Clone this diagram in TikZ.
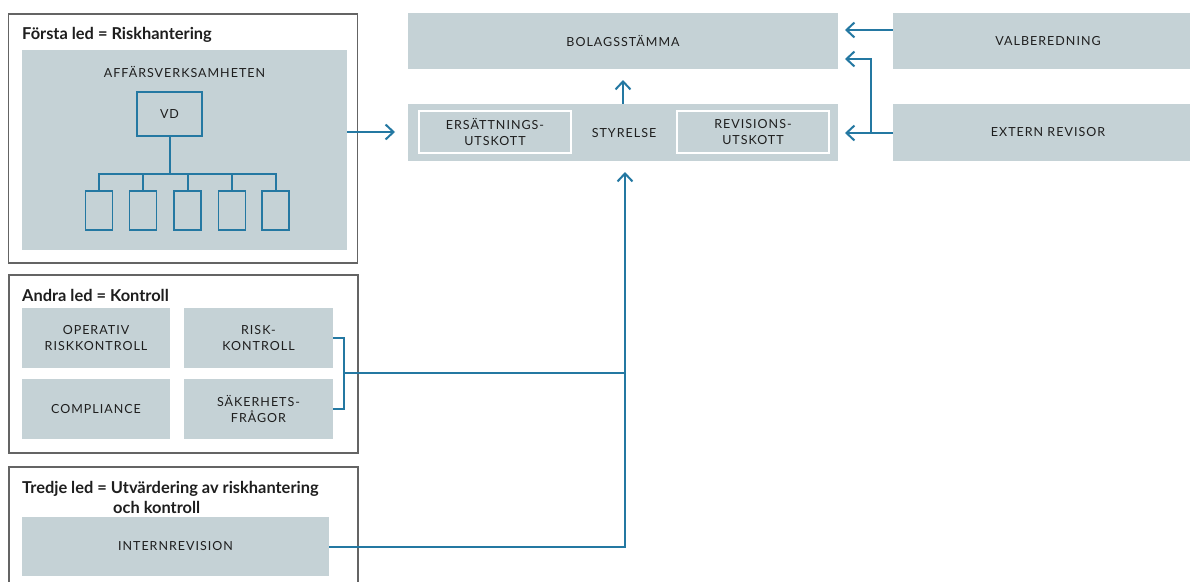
\documentclass[tikz,border=0pt]{standalone}
\usepackage{fontspec}
\setmainfont{Lato}
\usetikzlibrary{arrows.meta}
\definecolor{boxgray}{RGB}{197,210,214}
\definecolor{lineblue}{RGB}{36,120,162}
\definecolor{framegray}{RGB}{100,100,100}
\definecolor{txt}{RGB}{30,30,30}
\newfontfamily\capsfont[LetterSpace=8]{Lato}
\begin{document}
\begin{tikzpicture}[x=1pt,y=-1pt,
  capstext/.style={text=txt,font=\capsfont\fontsize{12.5}{15.5}\selectfont},
  frame/.style={draw=framegray,line width=1.3pt,rectangle,inner sep=0pt},
  graybox/.style={fill=boxgray,rectangle,inner sep=0pt,capstext,align=center},
  whitebox/.style={draw=white,line width=2.5pt,rectangle,inner sep=0pt,capstext,align=center},
  bluebox/.style={draw=lineblue,line width=1.9pt,rectangle,inner sep=0pt,capstext},
  title/.style={anchor=west,inner sep=0pt,font=\bfseries\fontsize{16.4}{20}\selectfont,text=txt,align=left},
  plain/.style={inner sep=0pt,capstext},
  conn/.style={draw=lineblue,line width=2pt},
  arr/.style={conn,-{Straight Barb[length=8pt,width=15pt,line width=2pt]}}
]
\useasboundingbox (0,0) rectangle (1190,581);
\clip (0,0) rectangle (1190,581);
\fill[white] (0,0) rectangle (1190,581);

% First line
\node[frame,minimum width=349pt,minimum height=249pt] (f1) at (183,138.5) {};
\node[title] (t1) at (22,35) {Första led = Riskhantering};
\node[graybox,minimum width=325pt,minimum height=200pt] (affar) at (184.5,150) {};
\node[plain] (affarlbl) at (184.5,72) {AFFÄRSVERKSAMHETEN};
\node[bluebox,minimum width=65pt,minimum height=44pt] (vd) at (169.5,114) {VD};
\foreach \i/\x in {1/99,2/143,3/187.5,4/232,5/275.5}{
  \node[draw=lineblue,line width=1.9pt,rectangle,inner sep=0pt,minimum width=27pt,minimum height=39pt] (u\i) at (\x,210.5) {};
}
\coordinate (bus) at (169.5,174);
\draw[conn] (vd.south) -- (bus);
\draw[conn] (u1.north) |- (bus) -| (u5.north);
\draw[conn] (u2.north) -- (u2.north |- bus);
\draw[conn] (u3.north) -- (u3.north |- bus);
\draw[conn] (u4.north) -- (u4.north |- bus);

% Top
\node[graybox,minimum width=430pt,minimum height=56pt] (bol) at (623,41) {BOLAGSSTÄMMA};
\node[graybox,minimum width=430pt,minimum height=57pt] (sty) at (623,132.5) {};
\node[plain] (stylbl) at (624,133) {STYRELSE};
\node[whitebox,minimum width=152pt,minimum height=42pt] (ers) at (495,132) {ERSÄTTNINGS-\\UTSKOTT};
\node[whitebox,minimum width=152pt,minimum height=42pt] (rev) at (753,132) {REVISIONS-\\UTSKOTT};
\node[graybox,minimum width=310pt,minimum height=56pt] (val) at (1048,41) {VALBEREDNING};
\node[graybox,minimum width=310pt,minimum height=57pt] (ext) at (1048,132.5) {EXTERN REVISOR};

\coordinate (bolin) at (623,80);
\draw[arr] (sty.north) -- (bolin);
\coordinate (valin) at (845,30);
\draw[arr] (val.west |- valin) -- (valin);
\coordinate (extin) at (845,133);
\draw[arr] (ext.west |- extin) -- (extin);
\coordinate (brk2) at (871,133);
\coordinate (bolin2) at (845,59);
\draw[arr] (brk2) |- (bolin2);
\coordinate (affout) at (395,132);
\draw[arr] (affar.east |- affout) -- (affout);

% Second line
\node[frame,minimum width=349pt,minimum height=178pt] (f2) at (183.5,364) {};
\node[title] (t2) at (22,295) {Andra led = Kontroll};
\node[graybox,minimum width=148pt,minimum height=60pt] (op) at (96,338) {OPERATIV\\RISKKONTROLL};
\node[graybox,minimum width=149pt,minimum height=60pt] (risk) at (258.5,338) {RISK-\\KONTROLL};
\node[graybox,minimum width=148pt,minimum height=60pt] (comp) at (96,409) {COMPLIANCE};
\node[graybox,minimum width=149pt,minimum height=60pt] (sak) at (258.5,409) {SÄKERHETS-\\FRÅGOR};
\coordinate (brk) at (344,373);
\coordinate (join) at (625,373);
\draw[conn] (risk.east) -| (brk) |- (sak.east);
\draw[conn] (brk) -- (join);

% Third line
\node[frame,minimum width=349pt,minimum height=150pt] (f3) at (183.5,542) {};
\node[title] (t3) at (22,497) {Tredje led = Utvärdering av riskhantering\\\hspace*{91pt}och kontroll};
\node[graybox,minimum width=307pt,minimum height=59pt] (intern) at (175.5,546.5) {INTERNREVISION};
\coordinate (styin) at (625,172);
\draw[arr] (intern.east) -| (styin);
\end{tikzpicture}
\end{document}
